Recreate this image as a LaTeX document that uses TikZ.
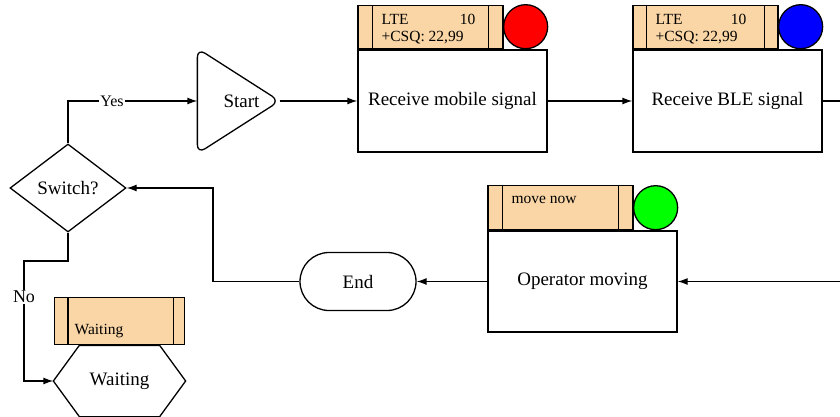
\documentclass[tikz,border=0pt]{standalone}
\usepackage{fontspec}
\setmainfont{Liberation Serif}
\usetikzlibrary{shapes.geometric,arrows.meta}
\definecolor{tagfill}{RGB}{250,214,166}
\begin{document}
\begin{tikzpicture}[x=1pt,y=-1pt,
  line width=1.3pt,
  big/.style={font=\fontsize{19}{22}\selectfont},
  box/.style={draw, minimum width=189pt, minimum height=102pt, inner sep=0pt, big},
  tagbox/.style={draw, fill=tagfill, minimum width=145pt, minimum height=43pt, inner sep=0pt},
  lamp/.style={draw, circle, minimum size=44pt, inner sep=0pt, anchor=south},
  arr/.style={-{Latex[length=10pt,width=7pt]}},
  lbl/.style={fill=white, inner sep=1pt},
  small/.style={font=\fontsize{15.5}{18}\selectfont, inner sep=0pt},
  ghost/.style={draw=none, inner sep=0pt, big}
]
\useasboundingbox (0,0) rectangle (840,417);
\clip (0,0) rectangle (840,417);

% Switch
\node[draw, diamond, minimum width=116pt, minimum height=88pt, inner sep=0pt, big] (sw) at (68,188) {Switch?};

% Start
\node[ghost, minimum width=81pt, minimum height=104pt] (start) at (238.5,101) {\hspace*{6pt}Start};
\draw[rounded corners=9pt] (start.north west) -- (start.east) -- (start.south west) -- cycle;

% Receive mobile signal
\node[box] (rms) at (452.5,101) {Receive mobile signal};
\node[tagbox, anchor=south west] (rmstag) at (rms.north west) {};
\draw ([xshift=15pt]rmstag.north west) -- ([xshift=15pt]rmstag.south west);
\draw ([xshift=-15pt]rmstag.north east) -- ([xshift=-15pt]rmstag.south east);
\node[lamp, fill=red] (rmslamp) at ([xshift=-22pt]rms.north east) {};
\node[small, anchor=west] (rmsa) at (381,19) {LTE};
\node[small, anchor=east] (rmsb) at (476,19) {10};
\node[small, anchor=west] (rmsc) at (381,38) {+CSQ: 22,99};

% Receive BLE signal
\node[box] (ble) at (727.5,101) {Receive BLE signal};
\node[tagbox, anchor=south west] (bletag) at (ble.north west) {};
\draw ([xshift=14pt]bletag.north west) -- ([xshift=14pt]bletag.south west);
\draw ([xshift=-14pt]bletag.north east) -- ([xshift=-14pt]bletag.south east);
\node[lamp, fill=blue] (blelamp) at ([xshift=-22pt]ble.north east) {};
\node[small, anchor=west] (blea) at (655,19) {LTE};
\node[small, anchor=east] (bleb) at (747,19) {10};
\node[small, anchor=west] (blec) at (655,38) {+CSQ: 22,99};

% Operator moving
\node[box, minimum height=101pt] (op) at (582.5,281.5) {Operator moving};
\node[tagbox, minimum height=44pt, anchor=south west] (optag) at (op.north west) {};
\draw ([xshift=15pt]optag.north west) -- ([xshift=15pt]optag.south west);
\draw ([xshift=-15pt]optag.north east) -- ([xshift=-15pt]optag.south east);
\node[lamp, fill=green] (oplamp) at ([xshift=-22pt]op.north east) {};
\node[small, anchor=west] (opa) at (511,200) {move now};

% End
\node[draw, rounded corners=29pt, minimum width=116pt, minimum height=58pt, inner sep=0pt, big] (end) at (358,281.5) {End};

% Waiting
\node[ghost, minimum width=131pt, minimum height=70pt] (wait) at (119.5,381) {Waiting};
\draw (wait.west) -- ([xshift=26pt]wait.north west) -- ([xshift=-26pt]wait.north east)
  -- (wait.east) -- ([xshift=-26pt]wait.south east) -- ([xshift=26pt]wait.south west) -- cycle;
\node[draw, fill=tagfill, minimum width=130pt, minimum height=47pt, inner sep=0pt, anchor=south] (waittag) at (wait.north) {};
\draw ([xshift=14pt]waittag.north west) -- ([xshift=14pt]waittag.south west);
\draw ([xshift=-12pt]waittag.north east) -- ([xshift=-12pt]waittag.south east);
\node[small, anchor=west] (waita) at (74,331) {Waiting};

% Connectors
\draw[arr] (sw.north) |- node[lbl, pos=0.67, font=\fontsize{16}{18}\selectfont] {Yes} (start.west);
\draw[arr] (start.east) -- (rms.west);
\draw[arr] (rms.east) -- (ble.west);
\coordinate (offr) at (870,101);
\draw[arr] (ble.east) -- (offr) |- (op.east);
\draw[arr] (op.west) -- (end.east);
\coordinate (endbend) at (213,281.5);
\draw[arr] (end.west) -- (endbend) |- (sw.east);
\coordinate (nobend) at (24,261);
\draw[arr] (sw.south) |- (nobend) -- node[lbl, pos=0.3, font=\fontsize{18}{20}\selectfont] {No} (nobend |- wait.west) -- (wait.west);
\end{tikzpicture}
\end{document}
